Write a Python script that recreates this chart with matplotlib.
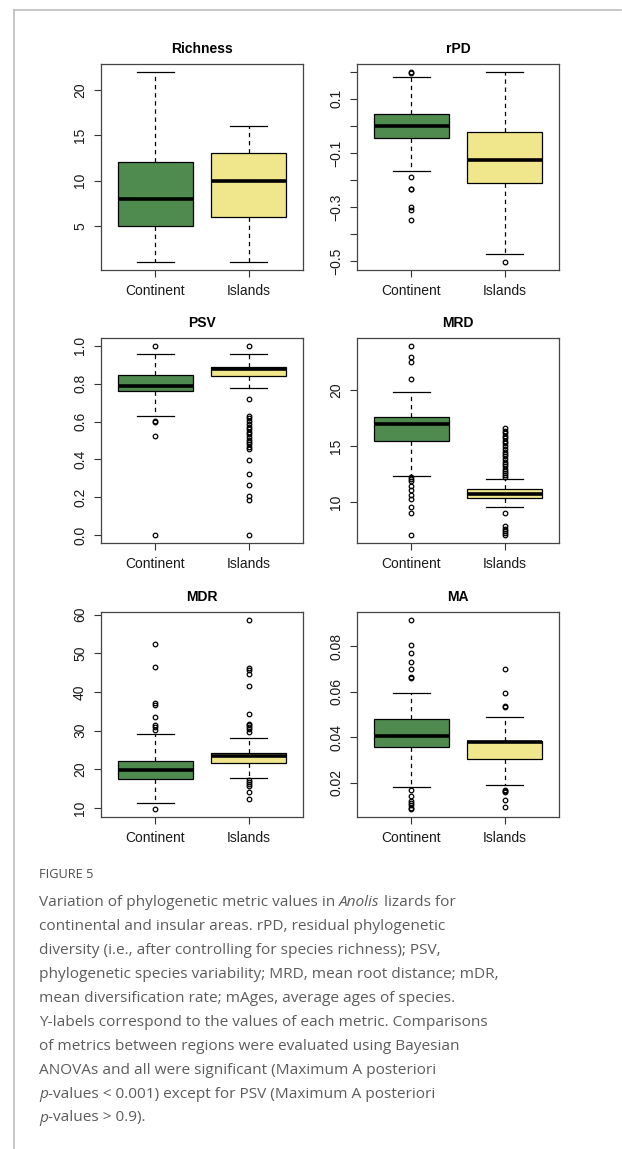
import matplotlib
matplotlib.use("Agg")
import matplotlib.pyplot as plt
from matplotlib.lines import Line2D

GROUPS = ["Continent", "Islands"]
COLORS = ["#4f8b4f", "#f0e68c"]

# five-number summaries: [lower whisker, Q1, median, Q3, upper whisker]
RICH_CONT = [1, 5, 8, 12, 22]
RICH_ISL = [1, 6, 10, 13, 16]
RICH_CONT_OUT = []
RICH_ISL_OUT = []

RPD_CONT = [-0.167, -0.046, 0.0, 0.045, 0.181]
RPD_ISL = [-0.473, -0.212, -0.126, -0.022, 0.198]
RPD_CONT_OUT = [0.2, 0.195, -0.188, -0.232, -0.235, -0.298, -0.31, -0.349]
RPD_ISL_OUT = [-0.504]

PSV_CONT = [0.629, 0.759, 0.789, 0.847, 0.956]
PSV_ISL = [0.777, 0.840, 0.877, 0.888, 0.956]
PSV_CONT_OUT = [1.0, 0.605, 0.596, 0.524, 0.0]
PSV_ISL_OUT = [1.0, 0.719, 0.629, 0.617, 0.603, 0.587, 0.573, 0.561, 0.547,
               0.533, 0.519, 0.504, 0.494, 0.480, 0.467, 0.453, 0.397, 0.323,
               0.264, 0.207, 0.186, 0.0]

MRD_CONT = [12.35, 15.48, 17.02, 17.65, 19.8]
MRD_ISL = [9.52, 10.39, 10.71, 11.16, 12.02]
MRD_CONT_OUT = [23.99, 23.0, 22.5, 21.0, 12.2, 12.02, 11.85, 11.46, 11.07,
                10.65, 10.3, 9.58, 9.02, 7.05]
MRD_ISL_OUT = [12.2, 12.38, 12.59, 12.8, 13.0, 13.2, 13.4, 13.6, 13.87, 14.1,
               14.3, 14.5, 14.76, 14.97, 15.27, 15.5, 15.7, 15.95, 16.16,
               16.37, 16.58, 9.02, 7.83, 7.62, 7.38, 7.2, 7.02]

MDR_CONT = [11.3, 17.4, 19.9, 22.16, 29.2]
MDR_ISL = [17.8, 21.6, 23.3, 24.2, 28.1]
MDR_CONT_OUT = [52.5, 46.5, 37.0, 36.7, 33.4, 31.5, 30.9, 30.2, 9.6]
MDR_ISL_OUT = [58.7, 46.1, 45.6, 44.6, 41.5, 34.3, 31.8, 31.4, 30.8, 30.3,
               29.7, 17.2, 16.7, 16.2, 15.7, 14.1, 12.4]

MA_CONT = [0.0182, 0.0359, 0.0406, 0.048, 0.0596]
MA_ISL = [0.0188, 0.0305, 0.0377, 0.0385, 0.0488]
MA_CONT_OUT = [0.0918, 0.0807, 0.0769, 0.0733, 0.0699, 0.0663, 0.066, 0.0169,
               0.0143, 0.012, 0.0112, 0.0101, 0.0089, 0.0082]
MA_ISL_OUT = [0.0699, 0.0594, 0.0539, 0.0535, 0.0166, 0.0163, 0.016, 0.0123,
              0.0091]

# y ticks and their labels (R leaves some ticks unlabelled)
RICH_TICKS = [5, 10, 15, 20]
RICH_LABELS = ["5", "10", "15", "20"]
RPD_TICKS = [-0.5, -0.4, -0.3, -0.2, -0.1, 0.0, 0.1, 0.2]
RPD_LABELS = ["\u22120.5", "", "\u22120.3", "", "\u22120.1", "", "0.1", ""]
PSV_TICKS = [0.0, 0.2, 0.4, 0.6, 0.8, 1.0]
PSV_LABELS = ["0.0", "0.2", "0.4", "0.6", "0.8", "1.0"]
MRD_TICKS = [10, 15, 20]
MRD_LABELS = ["10", "15", "20"]
MDR_TICKS = [10, 20, 30, 40, 50, 60]
MDR_LABELS = ["10", "20", "30", "40", "50", "60"]
MA_TICKS = [0.02, 0.04, 0.06, 0.08]
MA_LABELS = ["0.02", "0.04", "0.06", "0.08"]

TITLES = ["Richness", "rPD", "PSV", "MRD", "MDR", "MA"]

CAPTION_TITLE = "FIGURE 5"
CAPTION = [
    [("Variation of phylogenetic metric values in", "normal"), ("Anolis", "italic"),
     ("lizards for", "normal")],
    [("continental and insular areas. rPD, residual phylogenetic", "normal")],
    [("diversity (i.e., after controlling for species richness); PSV,", "normal")],
    [("phylogenetic species variability; MRD, mean root distance; mDR,", "normal")],
    [("mean diversification rate; mAges, average ages of species.", "normal")],
    [("Y-labels correspond to the values of each metric. Comparisons", "normal")],
    [("of metrics between regions were evaluated using Bayesian", "normal")],
    [("ANOVAs and all were significant (Maximum A posteriori", "normal")],
    [("p", "italic"), ("-values < 0.001) except for PSV (Maximum A posteriori", "nospace")],
    [("p", "italic"), ("-values > 0.9).", "nospace")],
]

W, H = 622, 1149


def draw_panel(ax, title, s_c, s_i, out_c, out_i, ticks, labels):
    stats = []
    for s, out in ((s_c, out_c), (s_i, out_i)):
        stats.append(dict(whislo=s[0], q1=s[1], med=s[2], q3=s[3],
                          whishi=s[4], fliers=out))
    bp = ax.bxp(stats, positions=[1, 2], widths=0.8, capwidths=0.4,
                patch_artist=True,
                boxprops=dict(edgecolor="black", linewidth=0.9),
                medianprops=dict(color="black", linewidth=2.6,
                                 solid_capstyle="butt"),
                whiskerprops=dict(color="black", linewidth=0.9,
                                  linestyle=(0, (3.5, 3))),
                capprops=dict(color="black", linewidth=0.9),
                flierprops=dict(marker="o", markersize=3.3,
                                markerfacecolor="none",
                                markeredgecolor="black",
                                markeredgewidth=0.9))
    for patch, c in zip(bp["boxes"], COLORS):
        patch.set_facecolor(c)

    vals = list(s_c) + list(s_i) + list(out_c) + list(out_i)
    lo, hi = min(vals), max(vals)
    pad = 0.04 * (hi - lo)
    ax.set_ylim(lo - pad, hi + pad)
    ax.set_xlim(0.42, 2.58)

    ax.set_xticks([1, 2])
    ax.set_xticklabels(GROUPS, fontsize=10)
    ax.set_yticks(ticks)
    ax.set_yticklabels(labels, fontsize=10, rotation=90, va="center")
    ax.tick_params(axis="both", length=5, width=0.8, color="#333333",
                   pad=5, labelcolor="#1a1a1a")
    for sp in ax.spines.values():
        sp.set_color("#444444")
        sp.set_linewidth(0.9)
    ax.set_title(title, fontsize=10, fontweight="bold", pad=8)


def main():
    plt.rcParams["font.family"] = ["Liberation Sans", "DejaVu Sans"]
    fig = plt.figure(figsize=(W / 100, H / 100), dpi=100)

    lefts = [101, 357]
    width = 202
    rows = [(64, 270), (338, 543), (612, 817)]

    data = [
        (RICH_CONT, RICH_ISL, RICH_CONT_OUT, RICH_ISL_OUT, RICH_TICKS, RICH_LABELS),
        (RPD_CONT, RPD_ISL, RPD_CONT_OUT, RPD_ISL_OUT, RPD_TICKS, RPD_LABELS),
        (PSV_CONT, PSV_ISL, PSV_CONT_OUT, PSV_ISL_OUT, PSV_TICKS, PSV_LABELS),
        (MRD_CONT, MRD_ISL, MRD_CONT_OUT, MRD_ISL_OUT, MRD_TICKS, MRD_LABELS),
        (MDR_CONT, MDR_ISL, MDR_CONT_OUT, MDR_ISL_OUT, MDR_TICKS, MDR_LABELS),
        (MA_CONT, MA_ISL, MA_CONT_OUT, MA_ISL_OUT, MA_TICKS, MA_LABELS),
    ]

    for i, (title, d) in enumerate(zip(TITLES, data)):
        top, bot = rows[i // 2]
        left = lefts[i % 2]
        ax = fig.add_axes([left / W, 1 - bot / H, width / W, (bot - top) / H])
        draw_panel(ax, title, *d)

    # page frame lines
    fig.add_artist(Line2D([14 / W, 621 / W], [1 - 10 / H, 1 - 10 / H],
                          color="#bdbdbd", linewidth=1.2,
                          transform=fig.transFigure))
    fig.add_artist(Line2D([14 / W, 14 / W], [0, 1 - 10 / H],
                          color="#bdbdbd", linewidth=1.2,
                          transform=fig.transFigure))

    # caption
    cap_font = ["Open Sans", "DejaVu Sans"]
    fig.text(39 / W, 1 - 875 / H, CAPTION_TITLE, fontsize=9.2,
             family=cap_font, color="#4d4d4d", va="center", ha="left")

    renderer = fig.canvas.get_renderer()
    fs = 11.1
    color = "#5c5c5c"
    probe1 = fig.text(0, 0, "a a", fontsize=fs, family=cap_font)
    probe2 = fig.text(0, 0, "aa", fontsize=fs, family=cap_font)
    space = (probe1.get_window_extent(renderer).width
             - probe2.get_window_extent(renderer).width)
    probe1.remove()
    probe2.remove()

    y = 902
    for line in CAPTION:
        x = 39.0
        for j, (seg, style) in enumerate(line):
            if j > 0 and style != "nospace":
                x += space
            t = fig.text(x / W, 1 - y / H, seg, fontsize=fs, family=cap_font,
                         color=color, va="center", ha="left",
                         style="italic" if style == "italic" else "normal")
            x += t.get_window_extent(renderer).width
        y += 24

    fig.savefig("out.png", dpi=100)


if __name__ == "__main__":
    main()
